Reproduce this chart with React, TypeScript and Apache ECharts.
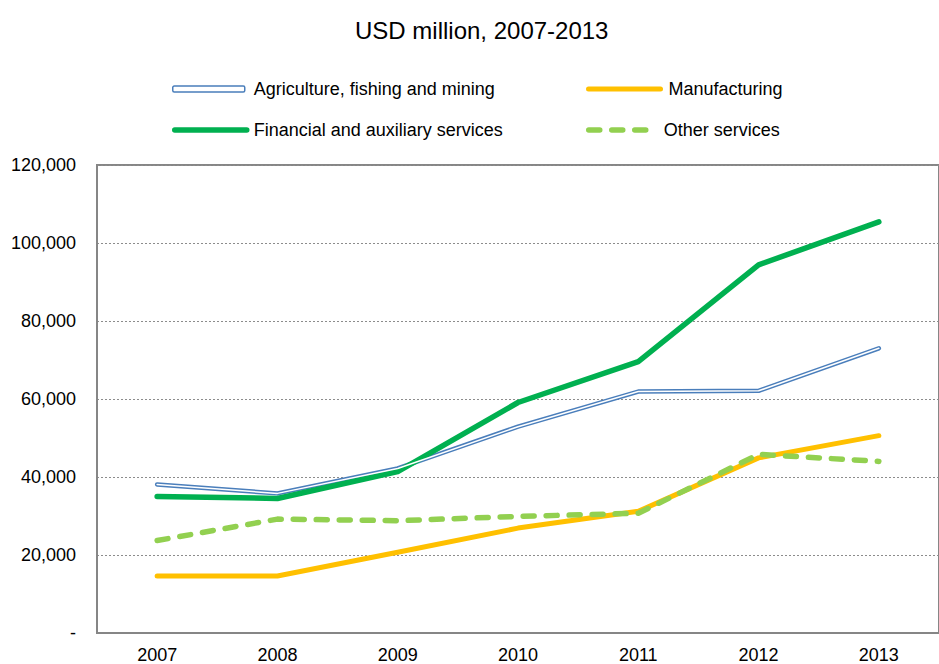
import React, { useEffect, useRef } from "react";
import * as echarts from "echarts";

const years = ["2007", "2008", "2009", "2010", "2011", "2012", "2013"];
const agriculture = [38100, 35800, 42200, 52900, 61900, 62100, 73000];
const manufacturing = [14600, 14600, 20700, 26900, 31200, 44900, 50600];
const financial = [35000, 34500, 41400, 59100, 69600, 94400, 105400];
const otherServices = [23700, 29200, 28800, 29900, 30700, 45800, 44000];
const yTicks = [0, 20000, 40000, 60000, 80000, 100000, 120000];

const BLUE = "#4a7ebb";
const YELLOW = "#ffc000";
const GREEN = "#00b050";
const LIGHTGREEN = "#92d050";
const FONT = "'Liberation Sans', Arial, sans-serif";

export default function App() {
  const ref = useRef<HTMLDivElement>(null);
  useEffect(() => {
    if (!ref.current) return;
    const chart = echarts.init(ref.current, undefined, { renderer: "svg" });
    const legendText = { fontSize: 18, color: "#000", fontFamily: FONT };
    const mkLegend = (name: string, left: number, top: number, pad: number, extra: any = {}) => ({
      show: true,
      left,
      top,
      orient: "horizontal",
      itemWidth: 72,
      itemHeight: 18,
      padding: 0,
      selectedMode: false,
      data: [name],
      textStyle: { ...legendText, padding: [0, 0, 0, pad] },
      lineStyle: { width: "inherit" },
      itemStyle: { opacity: 0 },
      ...extra,
    });
    chart.setOption({
      animation: false,
      backgroundColor: "#fff",
      title: {
        text: "USD million, 2007-2013",
        left: 350,
        top: 13,
        textStyle: { fontSize: 24, fontWeight: "normal", color: "#000", fontFamily: FONT },
      },
      legend: [
        mkLegend("Agriculture, fishing and mining", 172, 80, 4, {
          icon: "roundRect",
          itemHeight: 6,
          itemStyle: { color: "#fff", borderColor: BLUE, borderWidth: 1.5, opacity: 1 },
        }),
        mkLegend("Manufacturing", 586, 80, 3),
        mkLegend("Financial and auxiliary services", 172, 121, 2),
        mkLegend("Other services", 586, 121, 8, { itemWidth: 62 }),
      ],
      grid: {
        left: 97,
        top: 165,
        width: 853,
        height: 469,
        show: true,
        borderColor: "#868686",
        borderWidth: 2,
        containLabel: false,
      },
      xAxis: {
        type: "category",
        data: years,
        boundaryGap: true,
        axisLine: { show: true, lineStyle: { color: "#868686", width: 2 } },
        axisTick: { show: false },
        axisLabel: { fontSize: 18, color: "#000", fontFamily: FONT, margin: 13 },
      },
      yAxis: {
        type: "value",
        min: yTicks[0],
        max: yTicks[yTicks.length - 1],
        interval: 20000,
        axisLine: { show: true, lineStyle: { color: "#868686", width: 2 } },
        axisTick: { show: false },
        splitLine: { show: true, lineStyle: { color: "#8c8c8c", type: [2, 2], width: 1.2 } },
        axisLabel: {
          fontSize: 18,
          color: "#000",
          fontFamily: FONT,
          margin: 21,
          formatter: (v: number) => (v === 0 ? "-" : v.toLocaleString("en-US")),
        },
      },
      series: [
        {
          name: "Agriculture, fishing and mining",
          type: "line",
          data: agriculture,
          symbol: "none",
          color: BLUE,
          lineStyle: { color: BLUE, width: 4.5, cap: "round", join: "round" },
          z: 2,
        },
        {
          name: "agri-inner",
          type: "line",
          data: agriculture,
          symbol: "none",
          color: "#fff",
          lineStyle: { color: "#fff", width: 1.5, cap: "round", join: "round" },
          z: 3,
        },
        {
          name: "Manufacturing",
          type: "line",
          data: manufacturing,
          symbol: "none",
          color: YELLOW,
          lineStyle: { color: YELLOW, width: 5, cap: "round", join: "round" },
          z: 2,
        },
        {
          name: "Financial and auxiliary services",
          type: "line",
          data: financial,
          symbol: "none",
          color: GREEN,
          lineStyle: { color: GREEN, width: 5.5, cap: "round", join: "round" },
          z: 2,
        },
        {
          name: "Other services",
          type: "line",
          data: otherServices,
          symbol: "none",
          color: LIGHTGREEN,
          lineStyle: { color: LIGHTGREEN, width: 5.5, type: [11, 12], cap: "round", join: "round" },
          z: 4,
        },
      ],
    });
    return () => chart.dispose();
  }, []);
  return (
    <div
      ref={ref}
      style={{ position: "fixed", left: 0, top: 0, width: 939, height: 664, background: "#fff" }}
    />
  );
}
